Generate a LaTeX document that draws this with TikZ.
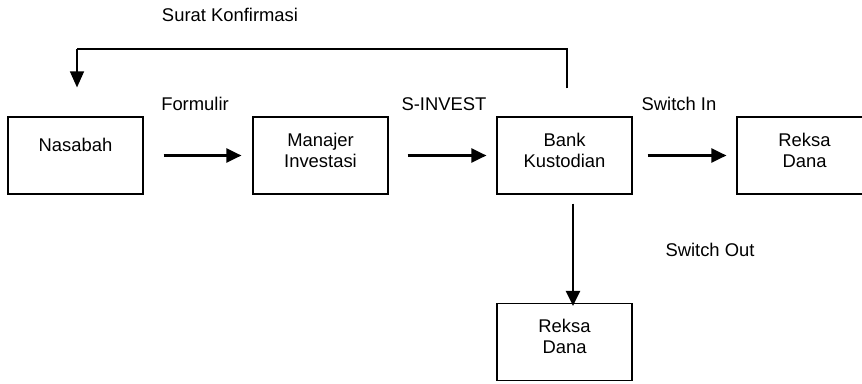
\documentclass[tikz,border=0pt]{standalone}
\usepackage{fontspec}
\setmainfont{Liberation Sans}
\usetikzlibrary{arrows.meta}
\begin{document}
\begin{tikzpicture}[x=1pt,y=-1pt,
  box/.style={draw,line width=1.2pt,minimum width=135pt,minimum height=77pt,inner sep=0pt},
  txt/.style={inner sep=0pt,align=center,font=\fontsize{18.4}{21}\selectfont},
  arr/.style={line width=2.2pt,-{Triangle[length=15pt,width=14pt]}},
  fb/.style={line width=1.4pt}]
\useasboundingbox (0,0) rectangle (862,383);
\begin{scope}
\clip (0,0) rectangle (862,383);
\node[box] (nas) at (75.5,155.5) {};
\node[box] (man) at (320.5,155.5) {};
\node[box] (bank) at (564.5,155.5) {};
\node[box] (rd1) at (804.5,155.5) {};
\node[box] (rd2) at (564.5,342) {};
\end{scope}
\node[txt] (tnas) at (75.5,145) {Nasabah};
\node[txt] (tman) at (320.5,150.5) {Manajer\\Investasi};
\node[txt] (tbank) at (564.5,150.5) {Bank\\Kustodian};
\node[txt] (trd1) at (804.5,150.5) {Reksa\\Dana};
\node[txt] (trd2) at (564.5,336) {Reksa\\Dana};
\node[txt] (lsk) at (230,15) {Surat Konfirmasi};
\node[txt] (lfo) at (195,104) {Formulir};
\node[txt] (lsi) at (444,104) {S-INVEST};
\node[txt] (lsw) at (679,104) {Switch In};
\node[txt] (lso) at (710,250) {Switch Out};
\draw[arr] ([xshift=20pt]nas.east) -- ([xshift=-11pt]man.west);
\draw[arr] ([xshift=19pt]man.east) -- ([xshift=-10pt]bank.west);
\draw[arr] ([xshift=15pt]bank.east) -- ([xshift=-10pt]rd1.west);
\draw[arr] ([xshift=8.5pt,yshift=-9pt]bank.south) -- ([xshift=8.5pt,yshift=-3pt]rd2.north);
\coordinate (c1) at ([xshift=2.5pt]bank.north |- 0,49);
\coordinate (c2) at ([xshift=1.5pt]nas.north |- 0,49);
\draw[fb] ([xshift=2.5pt,yshift=28pt]bank.north) -- (c1) -- (c2);
\draw[fb,-{Triangle[length=16pt,width=14pt]}] (c2) -- ([xshift=1.5pt,yshift=29pt]nas.north);
\end{tikzpicture}
\end{document}
